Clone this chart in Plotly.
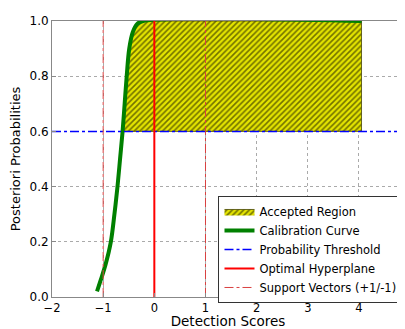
import plotly.graph_objects as go

# Calibration curve points
curve_x = [-1.12, -1.05, -0.95, -0.85, -0.78, -0.72, -0.67, -0.62, -0.58, -0.54, -0.49, -0.42, -0.33, -0.22, 4.05]
curve_y = [0.02, 0.06, 0.12, 0.2, 0.3, 0.4, 0.5, 0.6, 0.7, 0.8, 0.9, 0.96, 0.99, 1.0, 1.0]

threshold = 0.6
hyperplane_x = 0.0
support_x = [-1.0, 1.0]
region_right = 4.05

x_ticks = [-2, -1, 0, 1, 2, 3, 4]
y_ticks = [0.0, 0.2, 0.4, 0.6, 0.8, 1.0]

# Accepted region polygon: under the curve, above the threshold
reg_x = [x for x, y in zip(curve_x, curve_y) if y >= threshold]
reg_y = [y for y in curve_y if y >= threshold]
poly_x = reg_x + [region_right, reg_x[0]]
poly_y = reg_y + [threshold, threshold]

fig = go.Figure()
fig.add_trace(go.Scatter(
    x=poly_x, y=poly_y, mode="lines", fill="toself",
    line=dict(width=0.8, color="#444400"),
    fillcolor="#e5e500",
    fillpattern=dict(shape="/", fgcolor="black", bgcolor="#e5e500", size=4, solidity=0.4),
    name="Accepted Region"))
fig.add_trace(go.Scatter(
    x=curve_x, y=curve_y, mode="lines", line=dict(color="green", width=4, shape="spline"),
    name="Calibration Curve"))
fig.add_trace(go.Scatter(
    x=[-2, 4.9], y=[threshold, threshold], mode="lines",
    line=dict(color="blue", width=1.5, dash="dashdot"), name="Probability Threshold"))
fig.add_trace(go.Scatter(
    x=[hyperplane_x, hyperplane_x], y=[0, 1], mode="lines",
    line=dict(color="red", width=2), name="Optimal Hyperplane"))
for i, sx in enumerate(support_x):
    fig.add_trace(go.Scatter(
        x=[sx, sx], y=[0, 1], mode="lines",
        line=dict(color="#d94040", width=1, dash="dashdot"),
        name="Support Vectors (+1/-1)", showlegend=(i == 0)))

axis_common = dict(showline=True, linecolor="#888", linewidth=1, mirror=True,
                   showgrid=True, gridcolor="#aaa", griddash="dot", gridwidth=1,
                   zeroline=False, ticks="inside", ticklen=4, tickcolor="#888",
                   automargin=False)
fig.update_xaxes(range=[-2, 4.88], tickvals=x_ticks,
                 ticktext=["\u22122", "\u22121", "0", "1", "2", "3", "4"],
                 tickfont=dict(size=11.5, color="black"),
                 title=dict(text="Detection Scores", font=dict(size=13.5), standoff=5), **axis_common)
fig.update_yaxes(range=[0, 1], tickvals=y_ticks, ticktext=["0.0", "0.2", "0.4", "0.6", "0.8", "1.0"],
                 tickfont=dict(size=12, color="black"),
                 title=dict(text="Posteriori Probabilities", font=dict(size=13), standoff=6), **axis_common)

# page body has an 8px margin, so the figure is offset by (8, 8)
fig.update_layout(
    width=397, height=321,
    margin=dict(l=44, r=1, t=13, b=32),
    paper_bgcolor="white", plot_bgcolor="white",
    font=dict(family="DejaVu Sans", color="black"),
    legend=dict(x=0.473, y=0.366, xanchor="left", yanchor="top",
                bordercolor="#333", borderwidth=1, bgcolor="white",
                font=dict(size=11.5), tracegroupgap=0, itemwidth=30),
)
fig.write_html("out.html")
